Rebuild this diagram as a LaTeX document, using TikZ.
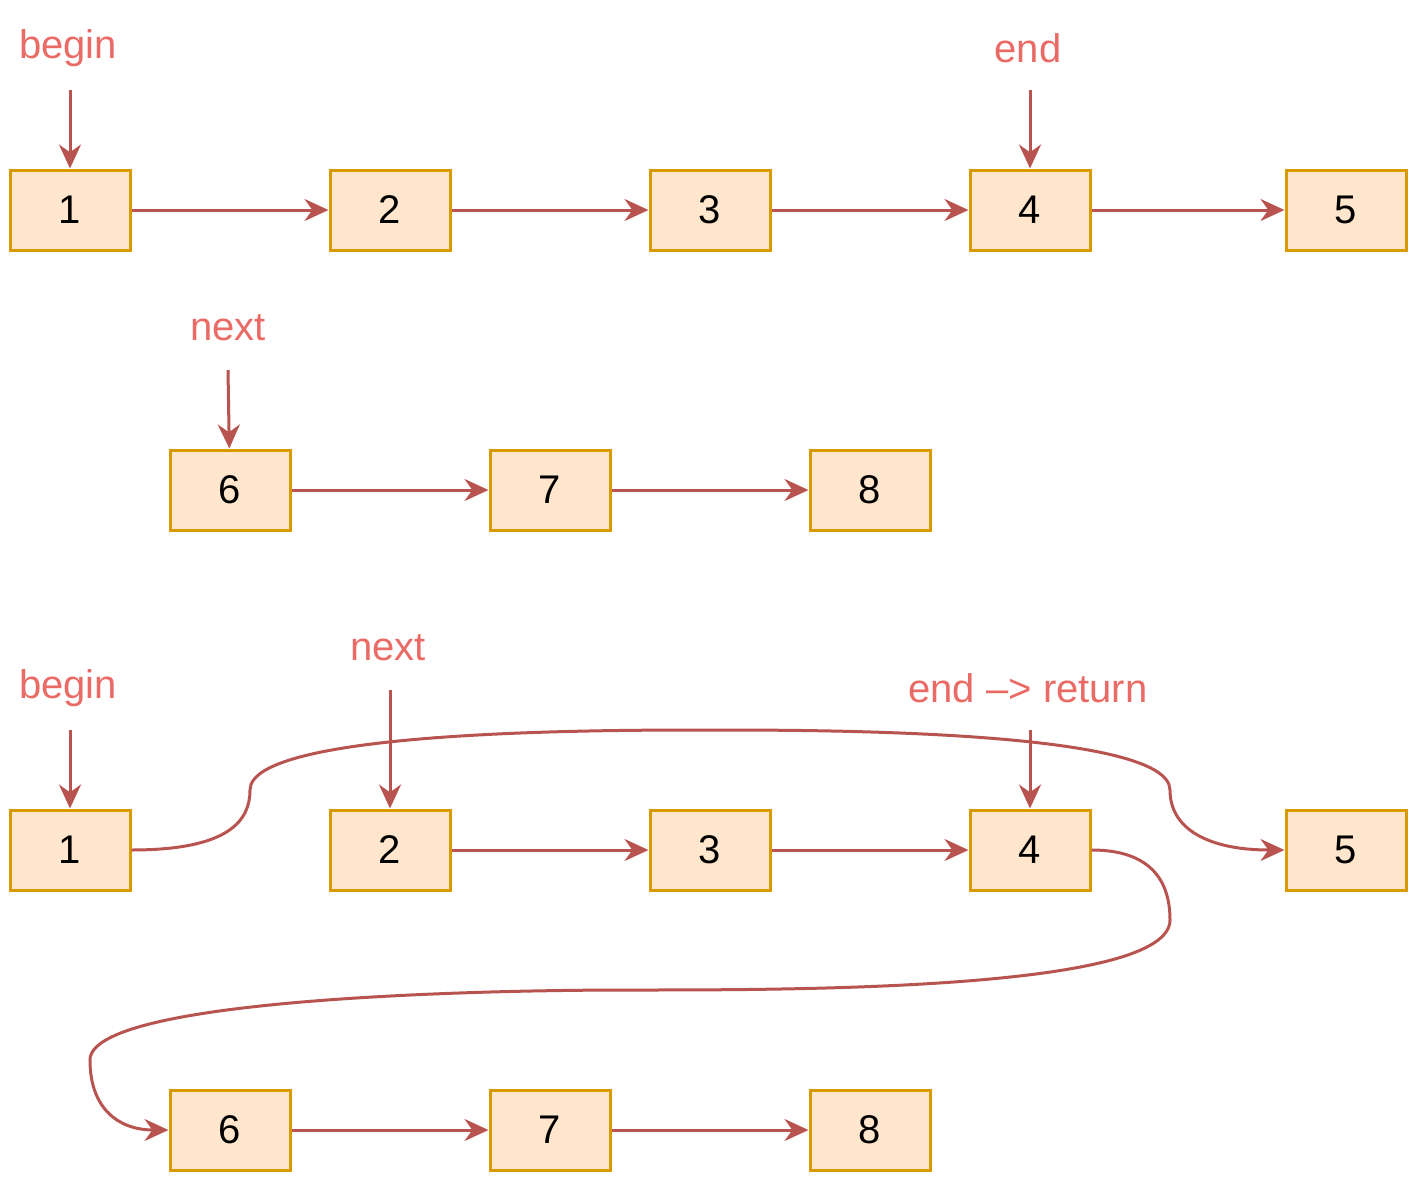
\documentclass[tikz,border=0pt]{standalone}
\usepackage{fontspec}
\setmainfont{Liberation Sans}
\usetikzlibrary{positioning, arrows.meta}
\definecolor{linkc}{RGB}{184,84,80}
\definecolor{boxf}{RGB}{255,230,204}
\definecolor{boxd}{RGB}{215,155,0}
\definecolor{labc}{RGB}{234,107,102}
\begin{document}
\begin{tikzpicture}[x=1pt, y=-1pt,
    nd/.style={draw=boxd, fill=boxf, line width=3pt, minimum width=120pt,
      minimum height=80pt, inner sep=0pt, font=\fontsize{40}{48}\selectfont},
    lb/.style={text=labc, inner sep=0pt, font=\fontsize{40}{48}\selectfont},
    ->/.style={-{Stealth[length=24pt, width=22pt]}, line width=3pt, draw=linkc}]
  \useasboundingbox (0,0) rectangle (1416,1180);
  % first list
  \node[nd] (a1) at (70,210) {1};
  \node[nd] (a2) at (390,210) {2};
  \node[nd] (a3) at (710,210) {3};
  \node[nd] (a4) at (1030,210) {4};
  \node[nd] (a5) at (1346,210) {5};
  \node[lb] (ab) at (68,48) {begin};
  \node[lb] (ae) at (1028,48) {end};
  \coordinate (abp) at (70,90);
  \coordinate (aep) at (1030,90);
  \draw[->] (abp) -- (a1);
  \draw[->] (aep) -- (a4);
  \foreach \i/\j in {1/2,2/3,3/4,4/5}
    \draw[->] (a\i) -- (a\j);
  % second list
  \node[nd] (b6) at (230,490) {6};
  \node[nd] (b7) at (550,490) {7};
  \node[nd] (b8) at (870,490) {8};
  \node[lb] (bn) at (228,328) {next};
  \coordinate (bnp) at (228,370);
  \draw[->] (bnp) -- (b6);
  \draw[->] (b6) -- (b7);
  \draw[->] (b7) -- (b8);
  % merged list
  \node[nd] (c1) at (70,850) {1};
  \node[nd] (c2) at (390,850) {2};
  \node[nd] (c3) at (710,850) {3};
  \node[nd] (c4) at (1030,850) {4};
  \node[nd] (c5) at (1346,850) {5};
  \node[nd] (c6) at (230,1130) {6};
  \node[nd] (c7) at (550,1130) {7};
  \node[nd] (c8) at (870,1130) {8};
  \node[lb] (cb) at (68,688) {begin};
  \node[lb] (cn) at (388,648) {next};
  \node[lb] (ce) at (1028,688) {end --> return};
  \coordinate (cbp) at (70,730);
  \coordinate (cnp) at (390,690);
  \coordinate (cep) at (1030,730);
  \draw[->] (cbp) -- (c1);
  \draw[->] (cnp) -- (c2);
  \draw[->] (cep) -- (c4);
  \draw[->] (c2) -- (c3);
  \draw[->] (c3) -- (c4);
  \draw[->] (c6) -- (c7);
  \draw[->] (c7) -- (c8);
  \draw[->] (c1.east) .. controls (230,850) and (250,820) .. (250,790)
    .. controls (250,730) and (600,730) .. (710,730)
    .. controls (820,730) and (1170,730) .. (1170,790)
    .. controls (1170,830) and (1210,850) .. (c5.west);
  \draw[->] (c4.east) .. controls (1150,850) and (1170,880) .. (1170,920)
    .. controls (1170,990) and (800,990) .. (630,990)
    .. controls (460,990) and (90,1000) .. (90,1060)
    .. controls (90,1110) and (120,1130) .. (c6.west);
\end{tikzpicture}
\end{document}
